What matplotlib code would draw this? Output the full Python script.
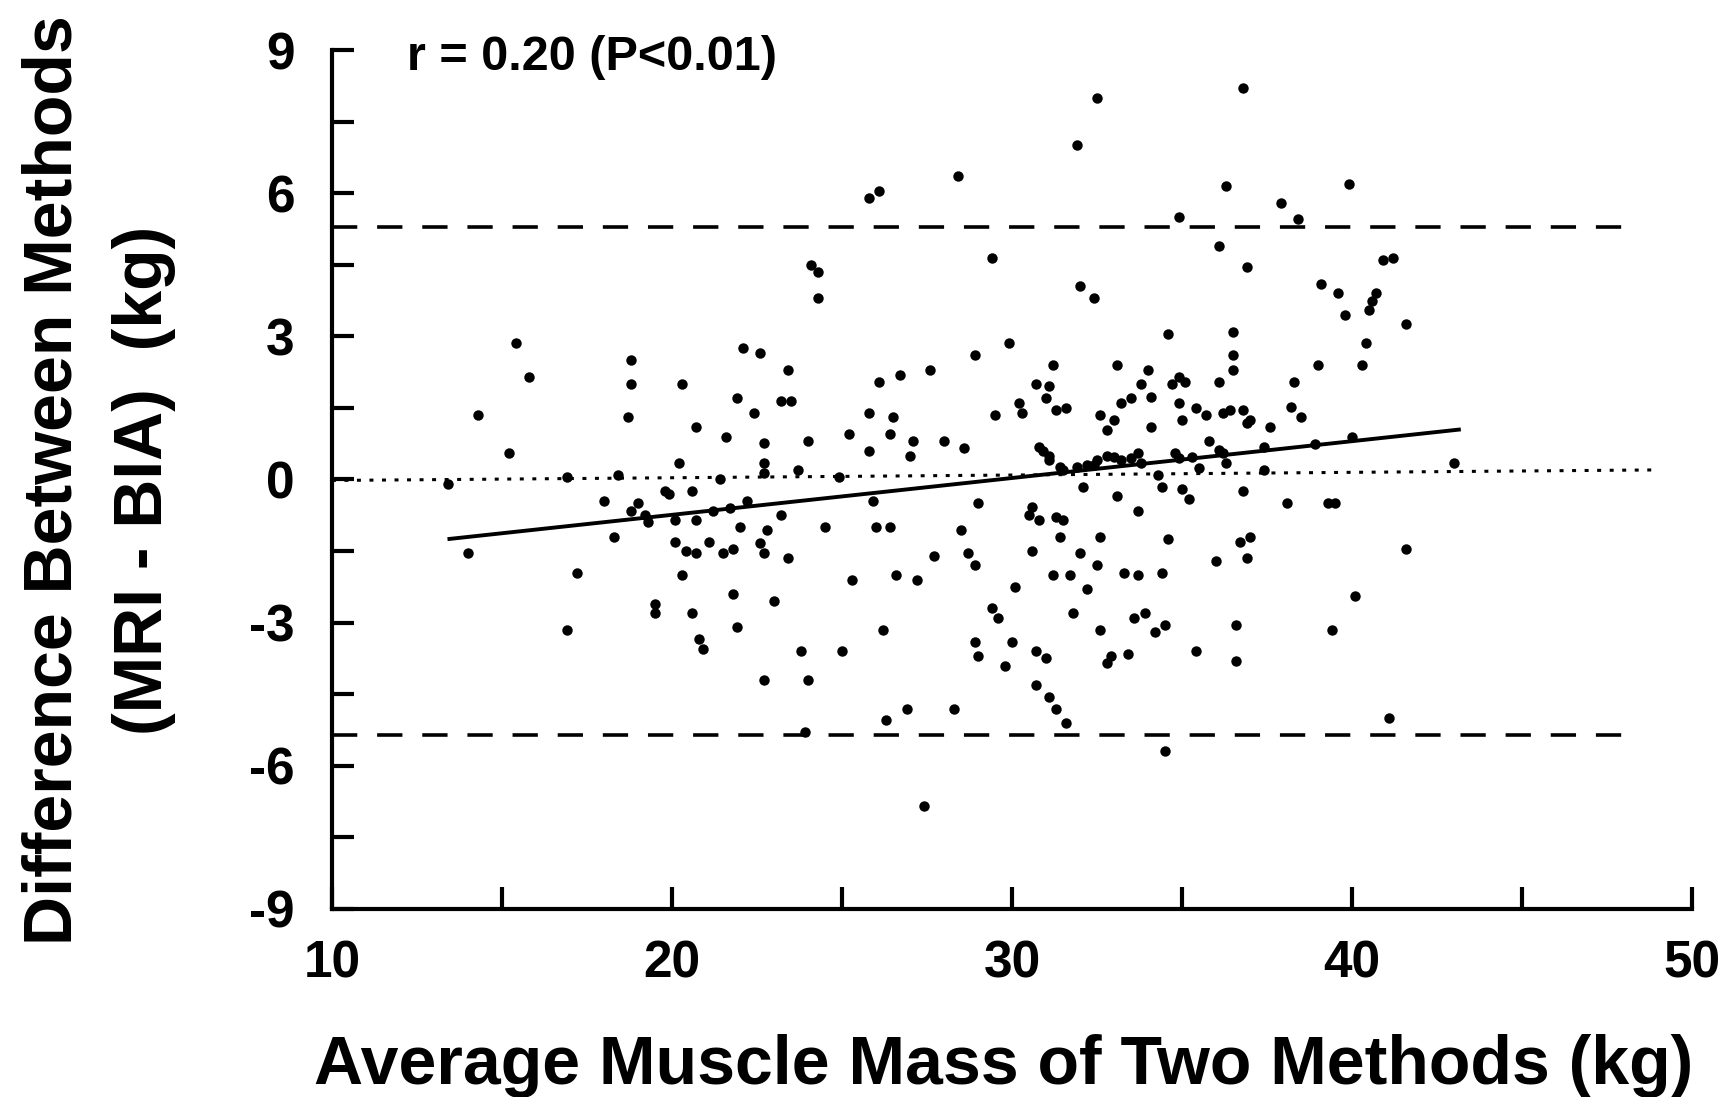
import matplotlib
matplotlib.use("Agg")
import matplotlib.pyplot as plt
import numpy as np

plt.rcParams['font.family'] = ['Liberation Sans', 'DejaVu Sans']
plt.rcParams['font.weight'] = 'bold'

# Average muscle mass (kg) and difference MRI - BIA (kg)
avg_mass = [
    13.4, 14.0, 14.3, 15.2, 15.4, 15.8, 16.9, 16.9, 17.2, 18.0, 18.3, 18.4, 18.7, 18.8, 18.8,
    18.8, 19.0, 19.2, 19.3, 19.5, 19.5, 19.9, 20.1, 20.2, 20.3, 20.1, 20.3, 20.4, 20.6, 20.6,
    20.7, 20.7, 20.8, 20.9, 21.1, 21.2, 21.4, 21.5, 21.6, 21.7, 21.8, 21.9, 21.9, 22.0, 22.1,
    22.2, 22.4, 22.6, 22.7, 22.7, 22.7, 22.8, 23.0, 23.2, 23.2, 23.4, 23.4, 23.5, 23.7, 23.8,
    23.9, 24.0, 24.0, 24.1, 24.3, 24.3, 24.5, 24.9, 25.0, 25.2, 25.3, 25.8, 25.8, 25.8, 26.1,
    25.9, 26.0, 26.1, 26.2, 26.3, 26.4, 26.4, 26.5, 26.7, 26.6, 26.9, 27.0, 27.1, 27.2, 27.4,
    27.6, 27.7, 28.0, 28.3, 28.4, 28.5, 28.6, 28.7, 28.9, 28.9, 28.9, 29.0, 29.0, 29.4, 29.4,
    29.5, 29.6, 29.8, 29.9, 30.0, 30.1, 30.2, 30.3, 30.5, 30.6, 30.7, 30.7, 30.7, 30.8, 30.9,
    31.0, 31.0, 31.1, 31.1, 31.2, 31.2, 31.3, 31.4, 31.5, 31.5, 31.6, 31.6, 31.7, 31.8, 31.9,
    32.0, 32.0, 32.1, 32.2, 32.2, 32.4, 32.5, 32.4, 32.5, 32.6, 32.6, 32.6, 32.8, 32.8, 32.9,
    33.0, 33.1, 33.1, 33.2, 33.3, 33.4, 33.5, 33.6, 33.7, 33.7, 33.7, 33.8, 33.9, 34.0, 34.1,
    34.2, 34.3, 34.4, 34.4, 34.5, 34.5, 34.6, 34.6, 34.7, 34.8, 34.9, 35.0, 35.0, 35.1, 35.2,
    35.4, 35.4, 35.5, 35.7, 35.8, 36.0, 36.1, 36.1, 36.2, 36.3, 36.4, 36.5, 36.5, 36.6, 36.6,
    36.7, 36.8, 36.8, 36.9, 36.9, 37.0, 37.0, 37.4, 37.6, 37.9, 38.1, 38.3, 38.4, 38.5, 38.9,
    39.0, 39.1, 39.3, 39.4, 39.5, 39.6, 39.8, 39.9, 40.0, 40.1, 40.3, 40.4, 40.5, 40.6, 40.7,
    40.9, 41.1, 41.2, 41.6, 41.6, 43.0,
    30.8, 31.1, 31.4, 31.9, 32.5, 33.0, 33.5, 33.8, 34.9, 35.3, 36.1, 36.3, 37.4, 31.3, 31.1,
    33.2, 34.1, 34.9, 34.9, 36.2, 36.8, 36.9, 38.2, 36.5, 32.8, 30.6, 31.3, 20.7, 22.6, 19.8,
    21.8, 22.7, 22.7,
]
diff = [
    -0.1, -1.55, 1.35, 0.55, 2.85, 2.15, 0.05, -3.15, -1.95, -0.45, -1.2, 0.1, 1.3, 2.5, 2.0,
    -0.65, -0.5, -0.75, -0.9, -2.6, -2.8, -0.3, -0.85, 0.35, 2.0, -1.3, -2.0, -1.5, -2.8, -0.25,
    1.1, -1.55, -3.35, -3.55, -1.3, -0.65, 0.0, -1.55, 0.9, -0.6, -2.4, 1.7, -3.1, -1.0, 2.75,
    -0.45, 1.4, 2.65, -1.55, -4.2, 0.35, -1.05, -2.55, -0.75, 1.65, 2.3, -1.65, 1.65, 0.2, -3.6,
    -5.3, 0.8, -4.2, 4.5, 4.35, 3.8, -1.0, 0.05, -3.6, 0.95, -2.1, 0.6, 1.4, 5.9, 6.05,
    -0.45, -1.0, 2.05, -3.15, -5.05, -1.0, 0.95, 1.3, 2.2, -2.0, -4.8, 0.5, 0.8, -2.1, -6.85,
    2.3, -1.6, 0.8, -4.8, 6.35, -1.05, 0.65, -1.55, 2.6, -1.8, -3.4, -3.7, -0.5, 4.65, -2.7,
    1.35, -2.9, -3.9, 2.85, -3.4, -2.25, 1.6, 1.4, -0.75, -1.5, 2.0, -4.3, -3.6, -0.85, 0.6,
    -3.75, 1.7, -4.55, 0.5, 2.4, -2.0, -4.8, -1.2, -0.85, 0.2, 1.5, -5.1, -2.0, -2.8, 7.0,
    4.05, -1.55, -0.15, 0.3, -2.3, 3.8, 8.0, 0.3, -1.8, -1.2, -3.15, 1.35, -3.85, 0.5, -3.7,
    1.25, -0.35, 2.4, 0.4, -1.95, -3.65, 1.7, -2.9, 0.55, -0.65, -2.0, 2.0, -2.8, 2.3, 1.1,
    -3.2, 0.1, -0.15, -1.95, -3.05, -5.7, -1.25, 3.05, 2.0, 0.55, 5.5, -0.2, 1.25, 2.05, -0.4,
    1.5, -3.6, 0.25, 1.35, 0.8, -1.7, 2.05, 4.9, 0.55, 6.15, 1.45, 3.1, 2.6, -3.05, -3.8,
    -1.3, -0.25, 8.2, 4.45, -1.65, 1.25, -1.2, 0.2, 1.1, 5.8, -0.5, 2.05, 5.45, 1.3, 0.75,
    2.4, 4.1, -0.5, -3.15, -0.5, 3.9, 3.45, 6.2, 0.9, -2.45, 2.4, 2.85, 3.55, 3.75, 3.9,
    4.6, -5.0, 4.65, -1.45, 3.25, 0.35,
    0.69, 0.41, 0.27, 0.27, 0.41, 0.48, 0.45, 0.34, 0.45, 0.48, 0.62, 0.34, 0.69, 1.46, 1.95,
    1.6, 1.73, 1.6, 2.15, 1.39, 1.46, 1.18, 1.52, 2.3, 1.04, -0.57, -0.78, -0.84, -1.33, -0.25,
    -1.45, 0.76, 0.14,
]

# Reference lines
upper_limit = 5.3
lower_limit = -5.35
mean_x = [10.0, 48.8]
mean_y = [-0.02, 0.2]
fit_x = [13.4, 43.2]
fit_y = [-1.25, 1.05]
limit_x = [10.0, 48.2]

x_ticks = [10, 20, 30, 40, 50]
x_minor = [15, 25, 35, 45]
y_ticks = [-9, -6, -3, 0, 3, 6, 9]
y_minor = [-7.5, -4.5, -1.5, 1.5, 4.5, 7.5]

fig = plt.figure(figsize=(17.34, 10.97), dpi=100)
ax = fig.add_axes([0.1914, 0.1714, 0.7844, 0.783])

ax.plot(avg_mass, diff, 'o', color='black', markersize=7.5, markeredgewidth=0, zorder=3)

ax.plot(limit_x, [upper_limit, upper_limit], color='black', lw=2.6, dashes=(7, 5.5))
ax.plot(limit_x, [lower_limit, lower_limit], color='black', lw=2.6, dashes=(7, 5.5))
ax.plot(mean_x, mean_y, color='black', lw=2.2, dashes=(1.3, 2.8))
ax.plot(fit_x, fit_y, color='black', lw=2.8, solid_capstyle='butt')

ax.set_xlim(10, 50)
ax.set_ylim(-9, 9)
ax.set_xticks(x_ticks)
ax.set_xticks(x_minor, minor=True)
ax.set_yticks(y_ticks)
ax.set_yticks(y_minor, minor=True)
ax.set_xticklabels([str(v) for v in x_ticks])
ax.set_yticklabels([str(v) for v in y_ticks])

for s in ['top', 'right']:
    ax.spines[s].set_visible(False)
for s in ['left', 'bottom']:
    ax.spines[s].set_linewidth(3)

ax.tick_params(axis='both', which='both', direction='in', width=3, length=16)
ax.tick_params(axis='x', which='major', labelsize=37, pad=22)
ax.tick_params(axis='y', which='major', labelsize=37, pad=27)

ax.text(12.2, 8.85, 'r = 0.20 (P<0.01)', fontsize=35, fontweight='bold', va='center', ha='left')

fig.text(0.579, 0.028, 'Average Muscle Mass of Two Methods (kg)', fontsize=49,
         fontweight='bold', ha='center', va='center')
fig.text(0.0306, 0.5625, 'Difference Between Methods', fontsize=49, fontweight='bold',
         rotation=90, ha='center', va='center')
fig.text(0.083, 0.5625, '(MRI - BIA)  (kg)', fontsize=49, fontweight='bold',
         rotation=90, ha='center', va='center')

fig.savefig('out.png', dpi=100)
